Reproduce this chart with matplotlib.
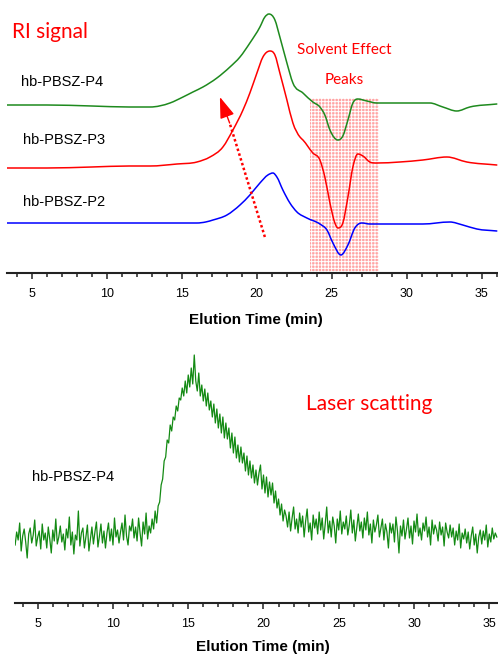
import matplotlib
matplotlib.use("Agg")
import matplotlib.pyplot as plt
from matplotlib.patches import Rectangle, PathPatch
from matplotlib.path import Path
from matplotlib.ticker import MultipleLocator

W, H = 498, 658

# ---------------- RI signal (top panel) ----------------
green_t = [3.35, 6.0, 9.0, 11.5, 12.89, 14.22, 15.09, 15.75, 16.42, 17.35, 18.22, 18.89, 19.55, 20.22,
           20.55, 20.82, 21.22, 21.55, 22.02, 22.42, 23.09, 23.75, 24.22, 24.55, 24.89, 25.42,
           25.75, 26.09, 26.42, 26.75, 27.35, 28.02, 29.55, 31.55, 32.42, 33.35, 34.22, 36.02]
green_v = [168, 168, 167, 166, 166, 170, 176, 181, 186, 195, 206, 216, 230, 246,
           256, 259, 253, 236, 210, 190, 180, 171, 166, 158, 143, 133,
           137, 153, 170, 174, 172, 170, 170, 170, 166, 162, 166, 169]

red_t = [3.35, 6.0, 9.0, 11.5, 12.89, 14.69, 16.02, 16.89, 17.75, 18.42, 19.09, 19.55, 20.02, 20.42, 20.89,
         21.22, 21.55, 22.02, 22.42, 22.89, 23.09, 23.75, 24.22, 24.55, 24.89, 25.22, 25.42,
         25.75, 26.09, 26.42, 26.75, 27.09, 27.55, 28.02, 29.55, 31.09, 32.69, 34.02, 36.02]
red_v = [105, 105, 106, 107, 107, 109, 111, 116, 126, 143, 163, 180, 200, 216, 222,
         218, 200, 173, 150, 136, 133, 120, 113, 96, 70, 50, 45,
         50, 76, 106, 119, 117, 111, 110, 111, 113, 116, 111, 108]

blue_t = [3.35, 6.0, 9.0, 12.0, 14.5, 16.02, 16.6, 17.09, 18.02, 18.89, 19.55, 20.22, 20.75, 21.09, 21.35,
          21.75, 22.22, 22.69, 23.35, 24.22, 24.69, 25.09, 25.62, 26.09, 26.55, 27.02, 27.55,
          28.22, 31.09, 32.89, 33.75, 34.69, 36.02]
blue_v = [50, 50, 50, 50, 50, 50, 51, 53, 58, 68, 78, 90, 98, 100, 96,
          83, 70, 61, 55, 49, 43, 30, 18, 28, 45, 50, 49,
          49, 49, 51, 48, 44, 42]

solvent_region = (23.55, 28.15)
solvent_top = 175
arrow_tail = (20.55, 36)
arrow_base = (18.2, 150)
arrow_tip = (17.55, 176)

# ---------------- Laser scattering (bottom panel) ----------------
ls_start, ls_step = 3.5, 0.1
ls_v = [
    58, 71, 63, 80, 52, 67, 74, 61, 45, 69,
    75, 60, 68, 83, 57, 66, 72, 54, 79, 63,
    70, 55, 76, 64, 50, 73, 62, 84, 59, 66,
    77, 61, 69, 53, 74, 65, 86, 58, 71, 49,
    68, 63, 92, 57, 70, 75, 55, 66, 78, 52,
    64, 76, 59, 71, 81, 56, 67, 79, 60, 72,
    55, 70, 80, 62, 74, 58, 85, 66, 73, 60,
    71, 80, 63, 88, 67, 58, 77, 72, 84, 65,
    76, 62, 85, 70, 57, 81, 69, 90, 64, 77,
    70, 84, 74, 92, 80, 97, 101, 118, 124, 142,
    146, 163, 160, 178, 172, 186, 183, 197, 192, 205,
    203, 215, 207, 222, 210, 228, 216, 235, 219, 248,
    222, 212, 230, 207, 218, 202, 214, 197, 210, 193,
    202, 186, 199, 180, 194, 175, 189, 170, 186, 165,
    180, 164, 175, 155, 170, 150, 166, 145, 158, 141,
    156, 140, 150, 132, 147, 128, 142, 125, 138, 120,
    133, 118, 130, 138, 114, 128, 110, 126, 106, 121,
    108, 120, 100, 112, 95, 104, 88, 99, 82, 93,
    87, 76, 91, 72, 85, 96, 74, 84, 70, 90,
    76, 87, 66, 82, 94, 71, 80, 63, 88, 75,
    84, 69, 91, 73, 85, 64, 79, 96, 70, 82,
    66, 86, 77, 60, 84, 73, 92, 69, 81, 74,
    87, 68, 78, 93, 70, 83, 62, 76, 89, 72,
    81, 65, 85, 73, 91, 68, 79, 60, 83, 71,
    78, 88, 66, 75, 84, 63, 79, 71, 55, 80,
    70, 79, 61, 86, 72, 50, 77, 67, 83, 64,
    74, 85, 65, 77, 59, 82, 71, 89, 67, 75,
    63, 80, 72, 86, 66, 76, 58, 83, 69, 78,
    73, 62, 81, 68, 76, 57, 80, 71, 65, 78,
    66, 75, 58, 72, 63, 79, 55, 70, 64, 74,
    60, 71, 54, 67, 76, 58, 69, 50, 66, 73,
    59, 72, 63, 78, 56, 69, 61, 75, 64, 70,
    66,
]
ls_t = [ls_start + ls_step * i for i in range(len(ls_v))]

xticks = [5, 10, 15, 20, 25, 30, 35]
xlabel = "Elution Time (min)"

# ---------------- figure ----------------
plt.rcParams["hatch.linewidth"] = 0.7
fig = plt.figure(figsize=(W / 100, H / 100), dpi=100)
SANS = ["Liberation Sans", "DejaVu Sans"]
CAL = ["Lato", "DejaVu Sans"]


def px_axes(x0, y0, x1, y1):
    return fig.add_axes([x0 / W, 1 - y1 / H, (x1 - x0) / W, (y1 - y0) / H])


def style(ax):
    for s in ("left", "right", "top"):
        ax.spines[s].set_visible(False)
    ax.spines["bottom"].set_linewidth(1.5)
    ax.spines["bottom"].set_color("#222222")
    ax.set_yticks([])
    ax.set_xticks(xticks)
    ax.xaxis.set_minor_locator(MultipleLocator(1))
    ax.tick_params(axis="x", which="major", direction="out", length=4.5, width=1.1,
                   color="#222222", pad=6.5, labelsize=9)
    ax.tick_params(axis="x", which="minor", direction="out", length=2.6, width=1.1,
                   color="#222222")
    for lab in ax.get_xticklabels():
        lab.set_family(SANS)
    ax.patch.set_alpha(0)


def smooth_line(ax, xs, ys, color, lw):
    """Smooth curve through the data points (cubic Hermite segments drawn as Bezier)."""
    n = len(xs)
    slopes = []
    for i in range(n):
        if i == 0:
            m = (ys[1] - ys[0]) / (xs[1] - xs[0])
        elif i == n - 1:
            m = (ys[-1] - ys[-2]) / (xs[-1] - xs[-2])
        else:
            d0 = (ys[i] - ys[i - 1]) / (xs[i] - xs[i - 1])
            d1 = (ys[i + 1] - ys[i]) / (xs[i + 1] - xs[i])
            if d0 * d1 <= 0:
                m = 0.0
            else:
                w0 = xs[i + 1] - xs[i]
                w1 = xs[i] - xs[i - 1]
                m = (w0 * d0 + w1 * d1) / (w0 + w1)
        slopes.append(m)
    verts = [(xs[0], ys[0])]
    codes = [Path.MOVETO]
    for i in range(n - 1):
        dx = xs[i + 1] - xs[i]
        c1 = (xs[i] + dx / 3, ys[i] + slopes[i] * dx / 3)
        c2 = (xs[i + 1] - dx / 3, ys[i + 1] - slopes[i + 1] * dx / 3)
        verts += [c1, c2, (xs[i + 1], ys[i + 1])]
        codes += [Path.CURVE4] * 3
    ax.add_patch(PathPatch(Path(verts, codes), fill=False, edgecolor=color, lw=lw,
                           zorder=3, capstyle="round", joinstyle="round"))


# top panel
ax1 = px_axes(7, 0, 498, 273)
ax1.set_xlim(3.35, 36.1)
ax1.set_ylim(0, 273)
rect = Rectangle((solvent_region[0], 0), solvent_region[1] - solvent_region[0], solvent_top,
                 facecolor="#ffa4a4", edgecolor="white", linewidth=0, hatch="+++++", zorder=1)
ax1.add_patch(rect)
smooth_line(ax1, green_t, green_v, "#1e8a1e", 1.1)
smooth_line(ax1, red_t, red_v, "#ff0000", 1.1)
smooth_line(ax1, blue_t, blue_v, "#0000ff", 1.1)
ax1.plot([arrow_tail[0], arrow_base[0]], [arrow_tail[1], arrow_base[1]], color="red",
         lw=1.8, linestyle=(0, (1, 1)), zorder=4)
ax1.annotate("", xy=arrow_tip, xytext=arrow_base,
             arrowprops=dict(arrowstyle="-|>,head_length=1.3,head_width=0.45",
                             color="red", lw=1.0, shrinkA=0, shrinkB=0), zorder=5)
style(ax1)

# bottom panel
ax2 = px_axes(15, 335, 498, 603)
ax2.set_xlim(3.49, 35.58)
ax2.set_ylim(0, 268)
ax2.plot(ls_t, ls_v, color="#138a13", lw=0.9)
style(ax2)


def ftext(x, y, s, **kw):
    fig.text(x / W, 1 - y / H, s, **kw)


ftext(12, 32, "RI signal", color="red", fontsize=15, family=CAL, va="center", ha="left")
ftext(344, 50, "Solvent Effect", color="red", fontsize=11, family=CAL, va="center", ha="center")
ftext(344, 80, "Peaks", color="red", fontsize=11, family=CAL, va="center", ha="center")
ftext(21, 82, "hb-PBSZ-P4", color="black", fontsize=10.5, family=SANS, va="center", ha="left")
ftext(23, 140, "hb-PBSZ-P3", color="black", fontsize=10.5, family=SANS, va="center", ha="left")
ftext(23, 202, "hb-PBSZ-P2", color="black", fontsize=10.5, family=SANS, va="center", ha="left")
ftext(256, 320, xlabel, color="black", fontsize=11, fontweight="bold", family=SANS,
      va="center", ha="center")

ftext(369, 404, "Laser scatting", color="red", fontsize=15, family=CAL, va="center", ha="center")
ftext(32, 477, "hb-PBSZ-P4", color="black", fontsize=10.5, family=SANS, va="center", ha="left")
ftext(263, 647, xlabel, color="black", fontsize=11, fontweight="bold", family=SANS,
      va="center", ha="center")

fig.savefig("out.png", dpi=100)
